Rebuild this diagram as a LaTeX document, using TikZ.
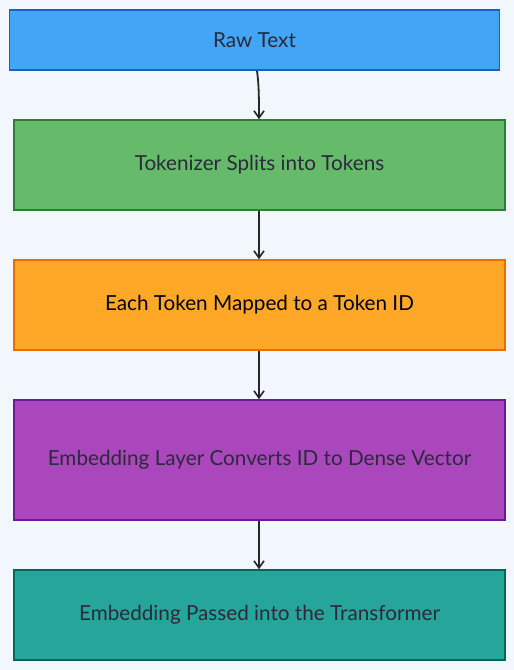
\documentclass[tikz,border=0pt]{standalone}
\usepackage{fontspec}
\setmainfont{Lato}
\usetikzlibrary{arrows.meta}
\definecolor{bg}{HTML}{F2F7FE}
\definecolor{txt}{HTML}{2A2A3A}
\definecolor{bfill}{HTML}{42A5F5}\definecolor{bdraw}{HTML}{1565C0}
\definecolor{gfill}{HTML}{66BB6A}\definecolor{gdraw}{HTML}{2E7D32}
\definecolor{ofill}{HTML}{FFA726}\definecolor{odraw}{HTML}{EF6C00}
\definecolor{pfill}{HTML}{AB47BC}\definecolor{pdraw}{HTML}{6A1B9A}
\definecolor{tfill}{HTML}{26A69A}\definecolor{tdraw}{HTML}{00695C}
\begin{document}
\begin{tikzpicture}[x=1pt,y=-1pt,
  box/.style={draw, line width=1.6pt, minimum width=491pt, inner sep=0pt, font=\fontsize{20.7}{24}\selectfont, text=txt},
  conn/.style={line width=1.8pt, draw=black!85, -{Straight Barb[length=7pt,width=10pt,line width=1.6pt]}}]
\fill[bg] (0,0) rectangle (514,670);
\useasboundingbox (0,0) rectangle (514,670);
\node[box, fill=bfill, draw=bdraw, minimum width=490pt, minimum height=60pt] (a) at (254.5,40) {Raw Text};
\node[box, fill=gfill, draw=gdraw, minimum height=90pt] (b) at (259.5,165) {Tokenizer Splits into Tokens};
\node[box, fill=ofill, draw=odraw, minimum height=90pt, text=black] (c) at (259.5,305) {Each Token Mapped to a Token ID};
\node[box, fill=pfill, draw=pdraw, minimum height=120pt] (d) at (259.5,460) {Embedding Layer Converts ID to Dense Vector};
\node[box, fill=tfill, draw=tdraw, minimum height=90pt] (e) at (259.5,615) {Embedding Passed into the Transformer};
\draw[conn] (a.south -| 257,0) .. controls (259,85) and (259,100) .. (b.north -| 259,0);
\draw[conn] (b.south -| 259,0) -- (c.north -| 259,0);
\draw[conn] (c.south -| 259,0) -- (d.north -| 259,0);
\draw[conn] (d.south -| 259,0) -- (e.north -| 259,0);
\end{tikzpicture}
\end{document}
